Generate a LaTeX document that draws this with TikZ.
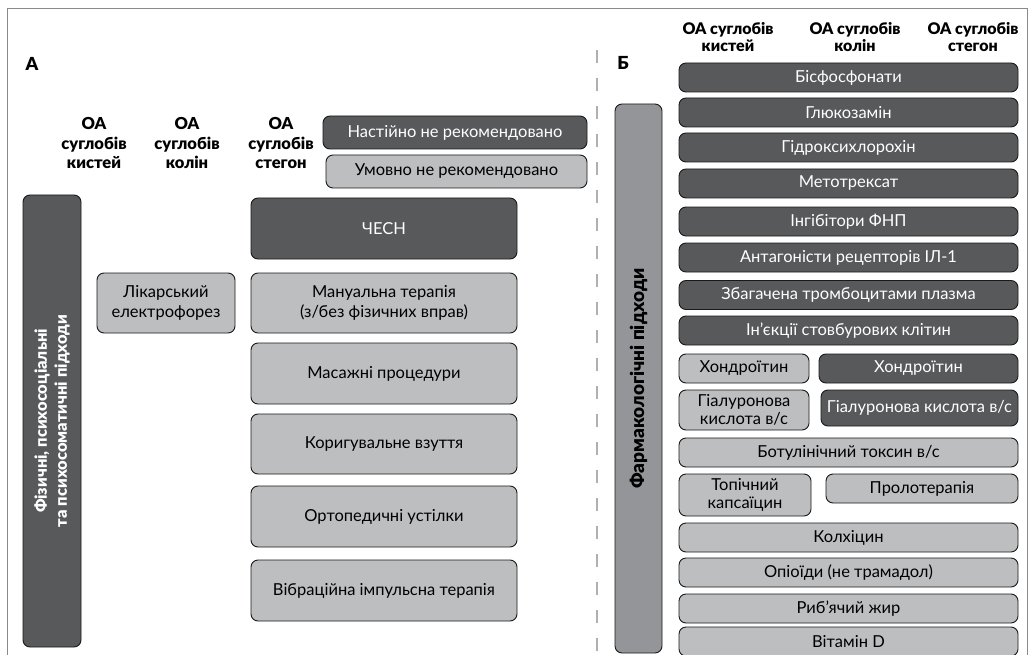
\documentclass[tikz,border=0pt]{standalone}
\usepackage{fontspec}
\setmainfont{Lato}
\newfontfamily\heavy{Lato Black}
\definecolor{dkgray}{HTML}{58595B}
\definecolor{ltgray}{HTML}{BCBEC0}
\definecolor{mdgray}{HTML}{939598}
\definecolor{framegray}{HTML}{8A8A8A}
\definecolor{dashgray}{HTML}{B0B0B0}
\begin{document}
\begin{tikzpicture}[x=1pt,y=-1pt,
  box/.style={draw=black!90, line width=0.9pt, rounded corners=7pt, inner sep=0pt, align=center, font=\fontsize{16.5}{19.5}\selectfont},
  dk/.style={box, fill=dkgray, text=white},
  lt/.style={box, fill=ltgray, text=black},
  md/.style={box, fill=mdgray, text=black},
  hdr/.style={align=center, inner sep=0pt, font=\heavy\fontsize{16.5}{19.5}\selectfont},
  hdrb/.style={align=center, inner sep=0pt, font=\heavy\fontsize{16}{17.5}\selectfont},
  lbl/.style={inner sep=0pt, font=\heavy\fontsize{18}{20}\selectfont}]
\useasboundingbox (0,0) rectangle (1030,655);
% frame
\coordinate (fbl) at (7.5,655);
\coordinate (ftl) at (7.5,8);
\coordinate (ftr) at (1027,8);
\coordinate (fbr) at (1027,655);
\draw[framegray, line width=0.8pt] (fbl) -- (ftl) -- (ftr) -- (fbr);
% divider
\coordinate (dt) at (597,50);
\coordinate (db) at (597,655);
\draw[dashgray, line width=1.4pt, dash pattern=on 13pt off 15pt] (dt) -- (db);

% ===== Section A =====
\node[lbl] (A) at (32,64) {А};
\node[hdr] (hA1) at (94,143) {ОА\\суглобів\\кистей};
\node[hdr] (hA2) at (187,143) {ОА\\суглобів\\колін};
\node[hdr] (hA3) at (281,143) {ОА\\суглобів\\стегон};
\node[dk, minimum width=264pt, minimum height=33pt] (leg1) at (455,132.5) {Настійно не рекомендовано};
\node[lt, minimum width=261pt, minimum height=33pt] (leg2) at (456.5,171.5) {Умовно не рекомендовано};
\node[dk, rotate=90, minimum width=452pt, minimum height=58pt, font=\heavy\fontsize{16.5}{20}\selectfont] (barA) at (52,421) {Фізичні, психосоціальні\\та психосоматичні підходи};
\node[lt, minimum width=138pt, minimum height=60pt] (elek) at (166,303) {Лікарський\\електрофорез};
\node[dk, minimum width=266pt, minimum height=61pt] (chesn) at (384,228.5) {ЧЕСН};
\node[lt, minimum width=266pt, minimum height=60pt] (man) at (384,303) {Мануальна терапія\\(з/без фізичних вправ)};
\node[lt, minimum width=266pt, minimum height=61pt] (mas) at (384,373.5) {Масажні процедури};
\node[lt, minimum width=266pt, minimum height=60pt] (kor) at (384,444) {Коригувальне взуття};
\node[lt, minimum width=266pt, minimum height=61pt] (ort) at (384,516.5) {Ортопедичні устілки};
\node[lt, minimum width=266pt, minimum height=61pt] (vib) at (384,590.5) {Вібраційна імпульсна терапія};

% ===== Section B =====
\node[lbl] (B) at (623,63) {Б};
\node[hdrb] (hB1) at (728,37) {ОА суглобів\\кистей};
\node[hdrb] (hB2) at (855,37) {ОА суглобів\\колін};
\node[hdrb] (hB3) at (973,37) {ОА суглобів\\стегон};
\node[md, rotate=90, minimum width=549pt, minimum height=47pt, font=\heavy\fontsize{19}{22}\selectfont] (barB) at (638.5,378.5) {Фармакологічні підходи};

\node[dk, minimum width=339pt, minimum height=29pt] (bis) at (848.5,77.5) {Бісфосфонати};
\node[dk, minimum width=339pt, minimum height=29pt] (glu) at (848.5,112.5) {Глюкозамін};
\node[dk, minimum width=339pt, minimum height=29pt] (gid) at (848.5,147.5) {Гідроксихлорохін};
\node[dk, minimum width=339pt, minimum height=29pt] (met) at (848.5,183.5) {Метотрексат};
\node[dk, minimum width=339pt, minimum height=29pt] (ing) at (848.5,221.5) {Інгібітори ФНП};
\node[dk, minimum width=339pt, minimum height=29pt] (ant) at (848.5,257.5) {Антагоністи рецепторів ІЛ-1};
\node[dk, minimum width=339pt, minimum height=29pt] (zba) at (848.5,295) {Збагачена тромбоцитами плазма};
\node[dk, minimum width=339pt, minimum height=29pt] (inj) at (848.5,330.5) {Ін’єкції стовбурових клітин};
\node[lt, minimum width=130pt, minimum height=29pt] (hon1) at (744,368.5) {Хондроїтин};
\node[dk, minimum width=199pt, minimum height=29pt] (hon2) at (918.5,368.5) {Хондроїтин};
\node[lt, minimum width=130pt, minimum height=40pt, font=\fontsize{16.5}{18}\selectfont] (gia1) at (744,410) {Гіалуронова\\кислота в/с};
\node[dk, minimum width=197pt, minimum height=36pt] (gia2) at (919.5,408) {Гіалуронова кислота в/с};
\node[lt, minimum width=339pt, minimum height=29pt] (bot) at (848.5,452.5) {Ботулінічний токсин в/с};
\node[lt, minimum width=132pt, minimum height=42pt, font=\fontsize{16.5}{18}\selectfont] (topk) at (745,495) {Топічний\\капсаїцин};
\node[lt, minimum width=192pt, minimum height=29pt] (pro) at (922,488.5) {Пролотерапія};
\node[lt, minimum width=339pt, minimum height=29pt] (kol) at (848.5,537.5) {Колхіцин};
\node[lt, minimum width=339pt, minimum height=29pt] (opi) at (848.5,572.5) {Опіоїди (не трамадол)};
\node[lt, minimum width=339pt, minimum height=29pt] (rib) at (848.5,608.5) {Риб’ячий жир};
\node[lt, minimum width=339pt, minimum height=29pt] (vit) at (848.5,641.5) {Вітамін D};
\end{tikzpicture}
\end{document}
